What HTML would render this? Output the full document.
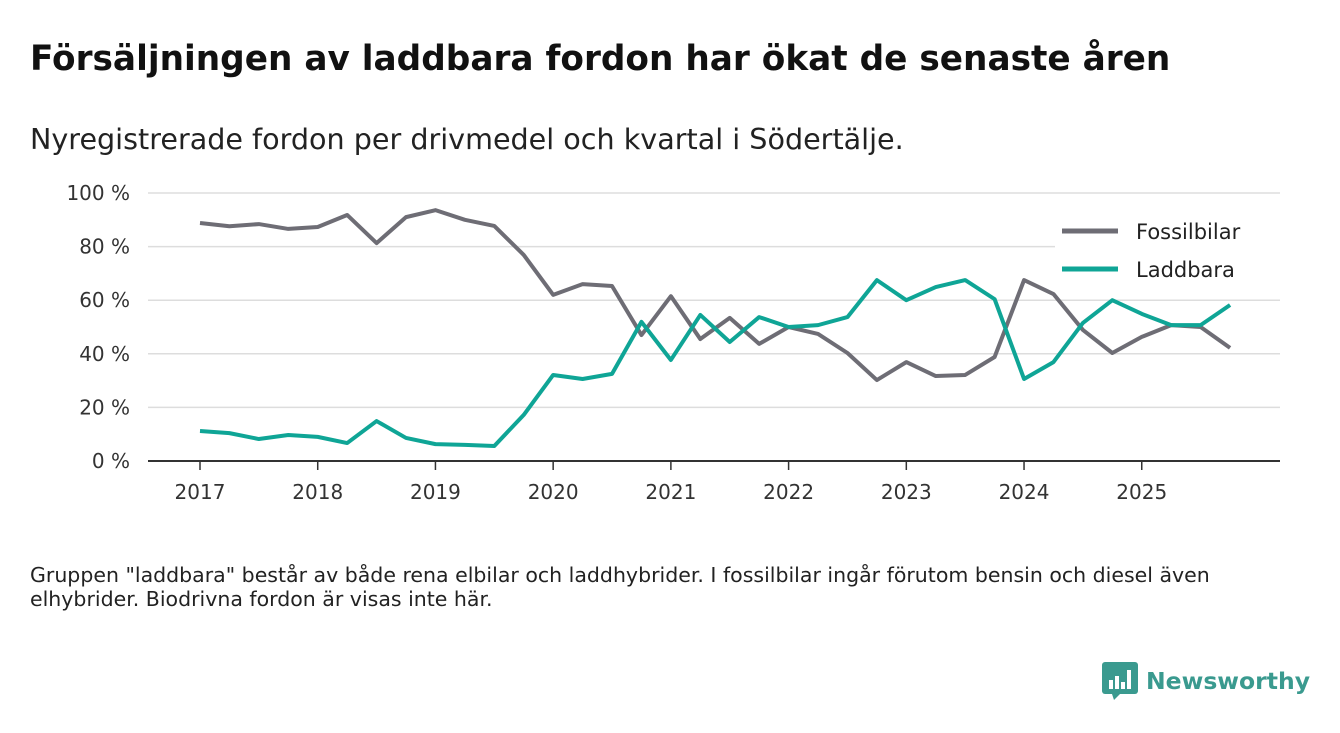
<!DOCTYPE html>
<html><head><meta charset="utf-8">
<style>
body{margin:0;width:1340px;height:733px;background:#fff;font-family:"DejaVu Sans",sans-serif;overflow:hidden;position:relative}
h1{position:absolute;left:30px;top:39px;margin:0;font-size:34.3px;font-weight:bold;color:#111;white-space:nowrap}
.sub{position:absolute;left:30px;top:122px;font-size:28.6px;color:#222;white-space:nowrap}
.note{position:absolute;left:30px;top:563px;font-size:20.5px;color:#222;line-height:24px;width:1225px}
.logo{position:absolute;left:1102px;top:662px;display:flex;align-items:center;gap:8px;color:#3a9a8f;font-size:23.5px;font-weight:bold}
svg text{font-family:"DejaVu Sans",sans-serif}
</style></head><body>
<h1>Försäljningen av laddbara fordon har ökat de senaste åren</h1>
<div class="sub">Nyregistrerade fordon per drivmedel och kvartal i Södertälje.</div>
<svg id="chart" width="1340" height="520" style="position:absolute;left:0;top:0"></svg>
<div class="note">Gruppen "laddbara" består av både rena elbilar och laddhybrider. I fossilbilar ingår förutom bensin och diesel även elhybrider. Biodrivna fordon är visas inte här.</div>
<div class="logo">
<svg width="36" height="38" viewBox="0 0 36 38"><rect x="0" y="0" width="36" height="32" rx="3" fill="#3a9a8f"/><polygon points="10,32 18,32 12,38" fill="#3a9a8f"/><rect x="7" y="18" width="4" height="9" fill="#fff"/><rect x="13" y="14" width="4" height="13" fill="#fff"/><rect x="19" y="20" width="4" height="7" fill="#fff"/><rect x="25" y="8" width="4" height="19" fill="#fff"/></svg>
<span>Newsworthy</span></div>
<script>
const years=["2017","2018","2019","2020","2021","2022","2023","2024","2025"];
const yTicks=[0,20,40,60,80,100];
const fossil=[88.8,87.6,88.4,86.6,87.3,91.8,81.3,91,93.6,90,87.7,76.9,62,66,65.3,47,61.5,45.5,53.4,43.7,50,47.4,40.3,30.2,36.9,31.7,32.1,38.8,67.5,62.3,48.9,40.3,46.3,50.7,50,42.2];
const ladd=[11.2,10.4,8.2,9.7,9,6.7,14.9,8.6,6.3,6,5.6,17.2,32.1,30.6,32.5,51.9,37.7,54.5,44.4,53.7,50,50.7,53.7,67.5,60,64.9,67.5,60.4,30.6,36.9,51.5,60,54.9,50.7,50.7,58.2];
const NS="http://www.w3.org/2000/svg",svg=document.getElementById('chart');
const x=i=>200+i*29.43, y=v=>461-v*2.68;
function el(t,a,p){const e=document.createElementNS(NS,t);for(const k in a)e.setAttribute(k,a[k]);(p||svg).appendChild(e);return e;}
yTicks.forEach(v=>{
 const g=el('line',{x1:148,x2:1280,y1:y(v),y2:y(v),stroke:v?'#ddd':'#333','stroke-width':v?1.5:2});
 
 
 const t=el('text',{x:130,y:y(v)+7,'text-anchor':'end','font-size':20,fill:'#333'});t.textContent=v+' %';
 
 
});
years.forEach((yr,i)=>{
 const xx=x(i*4);
 const tk=el('line',{x1:xx,x2:xx,y1:461,y2:470,stroke:'#333','stroke-width':1.5});
 
 
 const t=el('text',{x:xx,y:499,'text-anchor':'middle','font-size':20,fill:'#333'});t.textContent=yr;
 
 
});
function line(d,c,n){const p=el('polyline',{points:d.map((v,i)=>x(i)+','+y(v)).join(' '),fill:'none',stroke:c,'stroke-width':4,'stroke-linejoin':'round'});
 
 }
line(fossil,'#6e6d75','fossil-line');
line(ladd,'#0fa596','laddbara-line');
el('rect',{x:1055,y:212,width:225,height:80,fill:'#fff'});
[['Fossilbilar','#6e6d75',231],['Laddbara','#0fa596',269]].forEach(([n,c,yy])=>{
 const l=el('line',{x1:1062,x2:1118,y1:yy,y2:yy,stroke:c,'stroke-width':5});
 
 
 const t=el('text',{x:1136,y:yy+8,'font-size':21,fill:'#222'});t.textContent=n;
 
 
});
</script>
</body></html>
